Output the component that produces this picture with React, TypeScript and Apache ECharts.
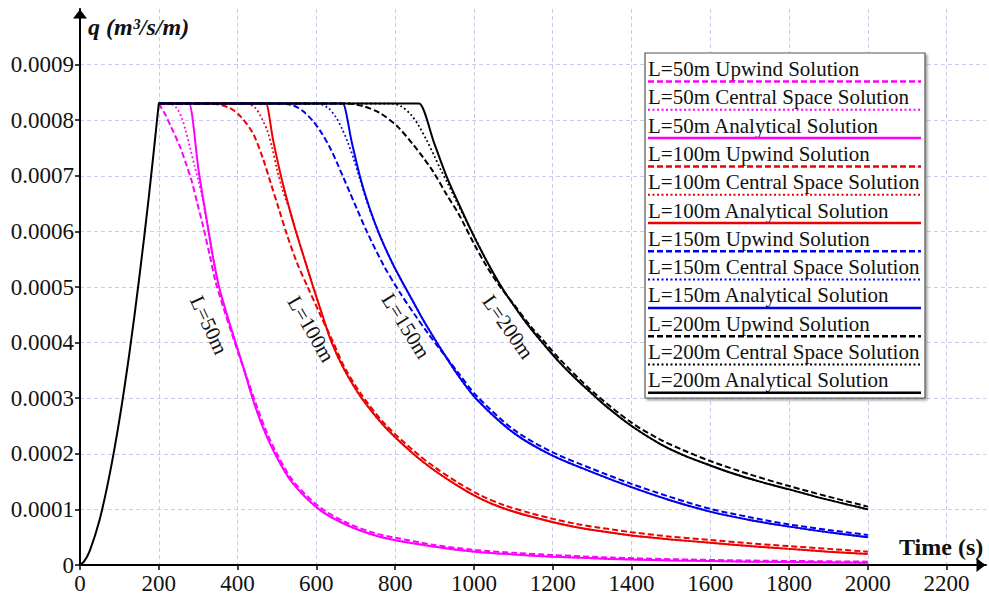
import React, { useEffect, useRef } from "react";
import * as echarts from "echarts";

// ---------- data (q in m^3/s/m, t in s) ----------
// common rising limb (drawn in black, shared by all runs)
const riseT = [0, 10, 25, 50, 75, 100, 125, 150, 175, 200];
const riseQ = [0, 0.06e-4, 0.26e-4, 0.82e-4, 1.62e-4, 2.61e-4, 3.79e-4, 5.14e-4, 6.64e-4, 8.3e-4];

// L = 50 m
const up50T = [200, 215, 230, 254, 270, 283, 298, 313, 330, 344, 364, 384, 405, 427, 450, 475, 500, 540, 607, 677, 750, 801, 900, 1002, 1100, 1200, 1345, 1500, 1700, 2000];
const up50Q = [8.3e-4, 8.12e-4, 7.9e-4, 7.52e-4, 7.2e-4, 6.92e-4, 6.5e-4, 6.08e-4, 5.55e-4, 5.1e-4, 4.63e-4, 4.19e-4, 3.75e-4, 3.3e-4, 2.83e-4, 2.37e-4, 2.0e-4, 1.52e-4, 1.05e-4, 0.76e-4, 0.57e-4, 0.49e-4, 0.36e-4, 0.27e-4, 0.22e-4, 0.18e-4, 0.135e-4, 0.105e-4, 0.08e-4, 0.06e-4];
const cs50T = [200, 228, 245, 258, 268, 279, 290, 300, 310];
const cs50Q = [8.3e-4, 8.3e-4, 8.22e-4, 8.05e-4, 7.82e-4, 7.52e-4, 7.2e-4, 6.93e-4, 6.63e-4];
const an50T = [200, 275, 277, 302, 326, 338, 353, 374, 395, 417, 438, 463, 495, 537, 607, 677, 750, 801, 900, 1002, 1100, 1200, 1345, 1500, 1700, 2000];
const an50Q = [8.3e-4, 8.3e-4, 8.3e-4, 7.05e-4, 6.02e-4, 5.52e-4, 5.0e-4, 4.48e-4, 4.0e-4, 3.5e-4, 3.0e-4, 2.5e-4, 2.0e-4, 1.5e-4, 1.0e-4, 0.72e-4, 0.53e-4, 0.445e-4, 0.33e-4, 0.24e-4, 0.19e-4, 0.15e-4, 0.11e-4, 0.083e-4, 0.06e-4, 0.04e-4];

// L = 100 m
const up100T = [200, 330, 380, 410, 440, 465, 485, 505, 525, 550, 578, 610, 640, 672, 715, 772, 846, 900, 960, 1015, 1075, 1140, 1201, 1260, 1320, 1400, 1500, 1600, 1700, 1800, 1900, 2000];
const up100Q = [8.3e-4, 8.3e-4, 8.22e-4, 8.05e-4, 7.75e-4, 7.3e-4, 6.85e-4, 6.4e-4, 5.95e-4, 5.45e-4, 5.0e-4, 4.5e-4, 4.05e-4, 3.55e-4, 3.06e-4, 2.55e-4, 2.06e-4, 1.76e-4, 1.48e-4, 1.26e-4, 1.08e-4, 0.94e-4, 0.83e-4, 0.74e-4, 0.67e-4, 0.59e-4, 0.51e-4, 0.45e-4, 0.39e-4, 0.34e-4, 0.29e-4, 0.24e-4];
const cs100T = [200, 423, 445, 460, 475, 488, 500, 512, 525];
const cs100Q = [8.3e-4, 8.3e-4, 8.22e-4, 8.05e-4, 7.82e-4, 7.5e-4, 7.12e-4, 6.8e-4, 6.52e-4];
const an100T = [200, 470, 472, 490, 510, 530, 546, 570, 592, 615, 639, 672, 715, 772, 846, 900, 960, 1015, 1075, 1140, 1201, 1260, 1320, 1400, 1500, 1600, 1700, 1800, 1900, 2000];
const an100Q = [8.3e-4, 8.3e-4, 8.3e-4, 7.65e-4, 7.0e-4, 6.45e-4, 6.05e-4, 5.5e-4, 5.0e-4, 4.5e-4, 4.0e-4, 3.5e-4, 3.0e-4, 2.5e-4, 2.0e-4, 1.7e-4, 1.42e-4, 1.2e-4, 1.02e-4, 0.88e-4, 0.77e-4, 0.68e-4, 0.61e-4, 0.53e-4, 0.46e-4, 0.4e-4, 0.34e-4, 0.29e-4, 0.24e-4, 0.2e-4];

// L = 150 m
const up150T = [200, 508, 540, 565, 592, 615, 635, 652, 668, 685, 702, 728, 770, 812, 850, 884, 914, 960, 1007, 1100, 1193, 1300, 1400, 1500, 1600, 1700, 1800, 1900, 2000];
const up150Q = [8.3e-4, 8.3e-4, 8.27e-4, 8.17e-4, 7.98e-4, 7.75e-4, 7.5e-4, 7.24e-4, 6.98e-4, 6.7e-4, 6.42e-4, 6.0e-4, 5.4e-4, 4.9e-4, 4.5e-4, 4.16e-4, 3.88e-4, 3.46e-4, 3.04e-4, 2.44e-4, 2.05e-4, 1.73e-4, 1.46e-4, 1.22e-4, 1.01e-4, 0.86e-4, 0.73e-4, 0.63e-4, 0.54e-4];
const cs150T = [200, 601, 630, 650, 665, 680, 695, 711, 735];
const cs150Q = [8.3e-4, 8.3e-4, 8.22e-4, 8.05e-4, 7.85e-4, 7.6e-4, 7.3e-4, 6.93e-4, 6.4e-4];
const an150T = [200, 665, 667, 690, 711, 735, 761, 795, 829, 850, 871, 893, 914, 960, 1007, 1100, 1193, 1300, 1400, 1500, 1600, 1700, 1800, 1900, 2000];
const an150Q = [8.3e-4, 8.3e-4, 8.3e-4, 7.6e-4, 6.98e-4, 6.42e-4, 5.93e-4, 5.4e-4, 4.95e-4, 4.68e-4, 4.41e-4, 4.15e-4, 3.91e-4, 3.41e-4, 2.98e-4, 2.38e-4, 1.99e-4, 1.67e-4, 1.4e-4, 1.16e-4, 0.96e-4, 0.81e-4, 0.69e-4, 0.59e-4, 0.5e-4];

// L = 200 m
const up200T = [200, 677, 720, 761, 804, 846, 872, 897, 931, 960, 977, 1000, 1030, 1062, 1100, 1150, 1176, 1218, 1303, 1400, 1472, 1530, 1600, 1700, 1800, 1900, 2000];
const up200Q = [8.3e-4, 8.3e-4, 8.25e-4, 8.13e-4, 7.9e-4, 7.56e-4, 7.32e-4, 7.07e-4, 6.66e-4, 6.33e-4, 6.1e-4, 5.78e-4, 5.4e-4, 5.05e-4, 4.7e-4, 4.24e-4, 4.04e-4, 3.7e-4, 3.11e-4, 2.56e-4, 2.26e-4, 2.07e-4, 1.87e-4, 1.63e-4, 1.42e-4, 1.23e-4, 1.05e-4];
const cs200T = [200, 790, 815, 840, 860, 880, 900, 915, 931, 960];
const cs200Q = [8.3e-4, 8.3e-4, 8.25e-4, 8.1e-4, 7.9e-4, 7.64e-4, 7.35e-4, 7.12e-4, 6.9e-4, 6.48e-4];
const an200T = [200, 859, 861, 900, 931, 960, 994, 1030, 1070, 1100, 1125, 1150, 1176, 1218, 1260, 1303, 1345, 1400, 1472, 1530, 1600, 1660, 1726, 1800, 1895, 2000];
const an200Q = [8.3e-4, 8.3e-4, 8.3e-4, 7.57e-4, 6.98e-4, 6.52e-4, 6.0e-4, 5.5e-4, 5.0e-4, 4.68e-4, 4.43e-4, 4.2e-4, 3.98e-4, 3.64e-4, 3.34e-4, 3.06e-4, 2.8e-4, 2.5e-4, 2.18e-4, 1.98e-4, 1.79e-4, 1.64e-4, 1.5e-4, 1.36e-4, 1.18e-4, 1.0e-4];

const lengths = ["50", "100", "150", "200"];
const colors = ["#ff00ff", "#ee0000", "#0000ee", "#000000"];
const schemes = ["Upwind Solution", "Central Space Solution", "Analytical Solution"];
const curveLabels = ["L=50m", "L=100m", "L=150m", "L=200m"];

const FONT = "'Liberation Serif', 'Times New Roman', serif";

const pts = (t: number[], q: number[]) => t.map((v, i) => [v, q[i]]);
const central = (ft: number[], fq: number[], at: number[], aq: number[]) => {
  const last = ft[ft.length - 1];
  return pts(ft, fq).concat(pts(at, aq).filter((p) => p[0] > last));
};

const seriesData = [
  [pts(up50T, up50Q), central(cs50T, cs50Q, an50T, an50Q), pts(an50T, an50Q)],
  [pts(up100T, up100Q), central(cs100T, cs100Q, an100T, an100Q), pts(an100T, an100Q)],
  [pts(up150T, up150Q), central(cs150T, cs150Q, an150T, an150Q), pts(an150T, an150Q)],
  [pts(up200T, up200Q), central(cs200T, cs200Q, an200T, an200Q), pts(an200T, an200Q)],
];

const styleFor = (k: number) =>
  k === 0
    ? { type: [6, 3] as any, width: 2 }
    : k === 1
    ? { type: [1.8, 2.6] as any, width: 1.8 }
    : { type: "solid" as any, width: 2 };

export default function App() {
  const ref = useRef<HTMLDivElement>(null);
  useEffect(() => {
    document.body.style.margin = "0";
    const chart = echarts.init(ref.current!, null, { renderer: "svg" });

    const series: any[] = [];
    const legendEls: any[] = [];
    let idx = 0;
    lengths.forEach((L, li) => {
      schemes.forEach((s, k) => {
        const name = `L=${L}m ${s}`;
        const st = styleFor(k);
        series.push({
          type: "line",
          name,
          data: seriesData[li][k],
          symbol: "none",
          smooth: 0.3,
          clip: true,
          lineStyle: { color: colors[li], width: st.width, type: st.type },
        });
        const yText = 69 + idx * 28.3;
        const yLine = 81.5 + idx * 28.3;
        legendEls.push({
          type: "text",
          x: 648,
          y: yText,
          z: 101,
          style: { text: name, fontFamily: FONT, fontSize: 21, fill: "#111", verticalAlign: "middle", align: "left" },
        });
        legendEls.push({
          type: "line",
          z: 101,
          shape: { x1: 648, y1: yLine, x2: 921, y2: yLine },
          style: {
            stroke: colors[li],
            lineWidth: k === 1 ? 2 : 2.5,
            lineDash: k === 0 ? [6, 3] : k === 1 ? [2, 2.5] : null,
          },
        });
        idx++;
      });
    });
    // shared rising limb, on top
    series.push({
      type: "line",
      name: "rising limb",
      data: pts(riseT, riseQ),
      symbol: "none",
      smooth: 0.3,
      clip: true,
      lineStyle: { color: "#000", width: 2, type: "solid" },
    });

    const labelPos = [
      { x: 209, y: 325, r: 65 },
      { x: 311, y: 329, r: 60 },
      { x: 406, y: 326, r: 58 },
      { x: 508, y: 327, r: 55 },
    ];

    const option: any = {
      animation: false,
      backgroundColor: "#ffffff",
      grid: { left: 80, top: 9, width: 906, height: 556 },
      xAxis: {
        type: "value",
        min: 0,
        max: 2300,
        interval: 200,
        axisLine: {
          show: true,
          lineStyle: { color: "#000", width: 2 },
          symbol: ["none", "triangle"],
          symbolSize: [14, 9],
          symbolOffset: [0, -5],
        },
        axisTick: { show: true, length: 5, lineStyle: { color: "#000", width: 1.5 } },
        axisLabel: {
          fontFamily: FONT,
          fontSize: 23,
          color: "#111",
          margin: 7,
          showMaxLabel: false,
          formatter: (v: number) => String(v),
        },
        splitLine: {
          show: true,
          showMaxLine: false,
          showMinLine: false,
          lineStyle: { color: "#cbcbee", type: [4, 3], width: 1 },
        },
      },
      yAxis: {
        type: "value",
        min: 0,
        max: 0.001,
        interval: 0.0001,
        axisLine: {
          show: true,
          lineStyle: { color: "#000", width: 2 },
          symbol: ["none", "triangle"],
          symbolSize: [14, 9],
          symbolOffset: [0, -5],
        },
        axisTick: { show: true, length: 5, lineStyle: { color: "#000", width: 1.5 } },
        axisLabel: {
          fontFamily: FONT,
          fontSize: 23,
          color: "#111",
          margin: 6,
          showMaxLabel: false,
          formatter: (v: number) => (v === 0 ? "0" : v.toFixed(4)),
        },
        splitLine: {
          show: true,
          showMaxLine: false,
          showMinLine: false,
          lineStyle: { color: "#cbcbee", type: [4, 3], width: 1 },
        },
      },
      series,
      graphic: [
        {
          type: "rect",
          z: 100,
          shape: { x: 645, y: 53, width: 280, height: 345 },
          style: {
            fill: "#fff",
            stroke: "#555",
            lineWidth: 1.2,
            shadowBlur: 2,
            shadowOffsetX: 2,
            shadowOffsetY: 2,
            shadowColor: "rgba(0,0,0,0.35)",
          },
        },
        ...legendEls,
        {
          type: "text",
          x: 88,
          y: 27,
          z: 50,
          style: {
            text: "q (m³/s/m)",
            fontFamily: FONT,
            fontSize: 24,
            fontWeight: "bold",
            fontStyle: "italic",
            fill: "#111",
            verticalAlign: "middle",
          },
        },
        {
          type: "text",
          x: 899,
          y: 547,
          z: 50,
          style: {
            text: "Time (s)",
            fontFamily: FONT,
            fontSize: 24,
            fontWeight: "bold",
            fill: "#111",
            verticalAlign: "middle",
          },
        },
        ...curveLabels.map((t, i) => ({
          type: "text",
          x: labelPos[i].x,
          y: labelPos[i].y,
          rotation: (-labelPos[i].r * Math.PI) / 180,
          z: 50,
          style: {
            text: t,
            fontFamily: FONT,
            fontSize: 21,
            fill: "#111",
            align: "center",
            verticalAlign: "middle",
          },
        })),
      ],
    };

    chart.setOption(option);
    return () => chart.dispose();
  }, []);
  return <div ref={ref} style={{ position: "absolute", left: 0, top: 0, width: 989, height: 596 }} />;
}
